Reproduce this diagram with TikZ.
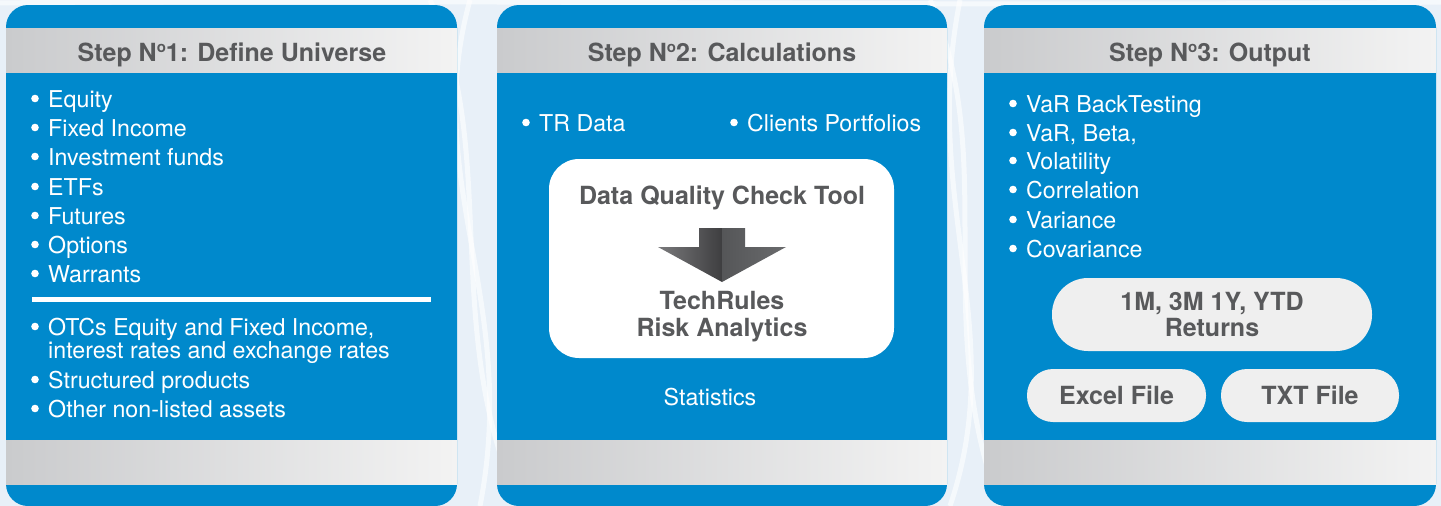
\documentclass[tikz,border=0pt]{standalone}
\usepackage{fontspec}
\setmainfont{TeX Gyre Heros}
\definecolor{panelblue}{HTML}{0089CC}
\definecolor{bandL}{HTML}{CACBCD}
\definecolor{bandR}{HTML}{F3F3F3}
\definecolor{hdtext}{HTML}{58595B}
\definecolor{pillgray}{HTML}{EFEFEF}
\definecolor{bgblue}{HTML}{E8F0F8}
\definecolor{arrowA}{HTML}{7A7A7C}
\definecolor{arrowB}{HTML}{3E3E40}
\definecolor{arrowC}{HTML}{555658}
\definecolor{arrowD}{HTML}{6A6B6D}
\tikzset{
  panel/.style={fill=panelblue, rounded corners=22pt},
  band/.style={left color=bandL, right color=bandR},
  hd/.style={anchor=base, inner sep=0pt, text=hdtext, font=\fontsize{25}{26}\selectfont\bfseries},
  item/.style={anchor=base west, inner sep=0pt, text=white, font=\fontsize{23.2}{27}\selectfont},
  pillbox/.style={fill=pillgray, inner sep=0pt, align=center, text=hdtext, font=\fontsize{25}{26}\selectfont\bfseries},
  swirl/.style={white, opacity=0.6, line width=5pt},
}
\newcommand\bitem[4]{%
  \fill[white] (#2,#3-8.5) circle (3.8pt);
  \node[item] (#1) at (#2+13,#3) {#4};
}
\newcommand\numo{N\raisebox{0.33em}{\fontsize{15}{15}\selectfont o}}
\begin{document}
\begin{tikzpicture}[x=1pt,y=-1pt]
\useasboundingbox (0,0) rectangle (1441,506);
\fill[bgblue] (0,0) rectangle (1441,506);
% faint background swirls
\draw[swirl] (430,0) .. controls (500,150) and (440,330) .. (520,506);
\draw[swirl] (470,0) .. controls (420,180) and (520,300) .. (480,506);
\draw[swirl] (930,0) .. controls (1000,160) and (930,320) .. (1000,506);
\draw[swirl] (960,0) .. controls (920,200) and (1010,330) .. (950,506);
\draw[swirl] (0,3) .. controls (400,-2) and (1000,8) .. (1441,2);

% ---------- panels ----------
\fill[panel] (6,5) rectangle (457,506);
\fill[panel] (497,5) rectangle (947,506);
\fill[panel] (984,5) rectangle (1436,506);
\shade[band] (6,28) rectangle (457,72);
\shade[band] (497,28) rectangle (947,72);
\shade[band] (984,28) rectangle (1436,72);
\shade[band] (6,440) rectangle (457,484);
\shade[band] (497,440) rectangle (947,484);
\shade[band] (984,440) rectangle (1436,484);

% ---------- headers ----------
\node[hd] (h1) at (232,61) {Step \numo1: Define Universe};
\node[hd] (h2) at (722,61) {Step \numo2: Calculations};
\node[hd] (h3) at (1210,61) {Step \numo3: Output};

% ---------- panel 1 ----------
\bitem{p1a}{35}{107}{Equity}
\bitem{p1b}{35}{136}{Fixed Income}
\bitem{p1c}{35}{165}{Investment funds}
\bitem{p1d}{35}{195}{ETFs}
\bitem{p1e}{35}{224}{Futures}
\bitem{p1f}{35}{253}{Options}
\bitem{p1g}{35}{282}{Warrants}
\fill[white] (32,297) rectangle (431,302);
\bitem{p1h}{35}{335}{OTCs Equity and Fixed Income,}
\node[item] (p1i) at (48,358) {interest rates and exchange rates};
\bitem{p1j}{35}{388}{Structured products}
\bitem{p1k}{35}{417}{Other non-listed assets}

% ---------- panel 2 ----------
\bitem{p2a}{526}{131}{TR Data}
\bitem{p2b}{734}{131}{Clients Portfolios}
\fill[white, rounded corners=30pt] (549,159) rectangle (894,358);
\node[hd] (dq) at (722,204) {Data Quality Check Tool};
\shade[left color=arrowA, right color=arrowB]
  (699,228) -- (722,228) -- (722,282) -- (658,247) -- (699,247) -- cycle;
\shade[left color=arrowC, right color=arrowD]
  (722,228) -- (745,228) -- (745,247) -- (786,247) -- (722,282) -- cycle;
\node[hd] (tr1) at (722,309) {TechRules};
\node[hd] (tr2) at (722,336) {Risk Analytics};
\node[item, anchor=base] (stat) at (710,405) {Statistics};

% ---------- panel 3 ----------
\bitem{p3a}{1013}{112}{VaR BackTesting}
\bitem{p3b}{1013}{141}{VaR, Beta,}
\bitem{p3c}{1013}{169}{Volatility}
\bitem{p3d}{1013}{198}{Correlation}
\bitem{p3e}{1013}{228}{Variance}
\bitem{p3f}{1013}{257}{Covariance}
\node[pillbox, rounded corners=36pt, minimum width=320pt, minimum height=73pt]
  (ret) at (1212,314.5) {1M, 3M 1Y, YTD\\Returns};
\node[pillbox, rounded corners=26pt, minimum width=179pt, minimum height=53pt]
  (xls) at (1116.5,395.5) {Excel File};
\node[pillbox, rounded corners=26pt, minimum width=178pt, minimum height=53pt]
  (txt) at (1310,395.5) {TXT File};
\end{tikzpicture}
\end{document}
